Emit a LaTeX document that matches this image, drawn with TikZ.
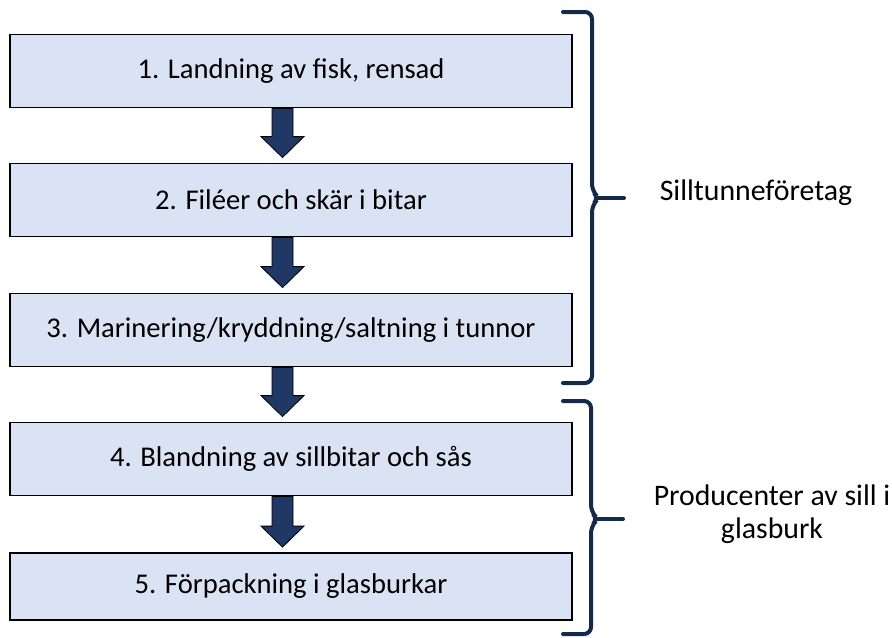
\documentclass[tikz,border=0pt]{standalone}
\usepackage{fontspec}
\setmainfont{Carlito}
\usetikzlibrary{calc}

\definecolor{stagefill}{HTML}{DAE3F3}
\definecolor{arrowblue}{HTML}{1F3864}
\definecolor{bracenavy}{HTML}{152A4A}

% block arrow from the bottom of one stage to the top of the next
\newcommand{\flowarrow}[2]{%
  \coordinate (s) at ($(#1.south)+(-8.5,0)$);
  \coordinate (t) at ($(#2.north)+(-8.5,-5)$);
  \filldraw[block arrow] ($(s)+(-10.5,0)$) -- ($(t)+(-10.5,-21)$) -- ($(t)+(-21.5,-21)$) -- (t)
    -- ($(t)+(21.5,-21)$) -- ($(t)+(10.5,-21)$) -- ($(s)+(10.5,0)$) -- cycle;
}
% curly bracket: x, top, middle, bottom
\newcommand{\groupbrace}[4]{%
  \draw[brace line] (563,#2) -- (#1,#2) -- (#1,{#3-7}) -- ({#1+7},#3) -- (#1,{#3+7}) -- (#1,#4) -- (563,#4);
  \draw[brace line] ({#1+6},#3) -- ({#1+32},#3);
}

\begin{document}
\begin{tikzpicture}[
        x=0.5pt, y=-0.5pt,
        font=\fontsize{14.3}{16.5}\selectfont,
        stage box/.style={draw=black, line width=0.9pt, fill=stagefill, minimum width=281pt, minimum height=36.5pt, inner sep=0pt},
        block arrow/.style={draw=black, line width=0.4pt, fill=arrowblue},
        brace line/.style={bracenavy, line width=2pt, rounded corners=3.5pt, line cap=round},
        group label/.style={align=center, inner sep=0pt, font=\fontsize{14.9}{16.5}\selectfont}
    ]
    \useasboundingbox (0,0) rectangle (892,637);

    % Process stages
    \node[stage box] (landning) at (291,71) {1. Landning av fisk, rensad};
    \node[stage box] (filea) at (291,200) {2. Filéer och skär i bitar};
    \node[stage box] (marinering) at (291,330) {3. Marinering/kryddning/saltning i tunnor};
    \node[stage box] (blandning) at (291,459) {4. Blandning av sillbitar och sås};
    \node[stage box, minimum height=33.5pt] (forpackning) at (291,586.5) {5. Förpackning i glasburkar};

    % Arrows between stages
    \flowarrow{landning}{filea}
    \flowarrow{filea}{marinering}
    \flowarrow{marinering}{blandning}
    \flowarrow{blandning}{forpackning}

    % Brackets and group labels
    \groupbrace{592}{12}{198}{383}
    \groupbrace{591}{401}{519}{634}
    \node[group label] (tunna) at (756,193) {Silltunneföretag};
    \node[group label] (glasburk) at (772,514) {Producenter av sill i\\glasburk};

\end{tikzpicture}
\end{document}
